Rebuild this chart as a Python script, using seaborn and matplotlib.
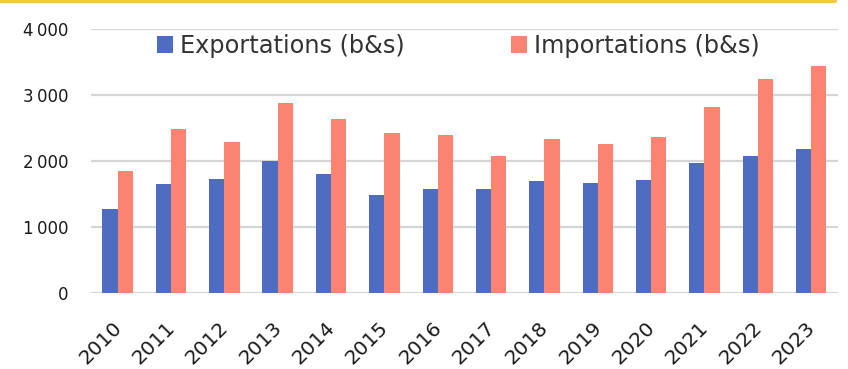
import matplotlib
matplotlib.use("Agg")
import matplotlib.pyplot as plt
import matplotlib.transforms as mtransforms
import seaborn as sns
import pandas as pd
from matplotlib.lines import Line2D
from matplotlib.ticker import FuncFormatter

years = [str(y) for y in range(2010, 2024)]
exports = [1265, 1650, 1725, 1990, 1800, 1480, 1570, 1578, 1690, 1655, 1705, 1960, 2070, 2172]
imports = [1838, 2487, 2292, 2870, 2637, 2420, 2390, 2070, 2325, 2250, 2365, 2812, 3238, 3432]
series = ["Exportations (b&s)", "Importations (b&s)"]
colors = ["#4e6cc0", "#fb8371"]

df = pd.DataFrame({
    "year": years * 2,
    "value": exports + imports,
    "series": [series[0]] * len(years) + [series[1]] * len(years),
})

sns.set_theme(style="white")
plt.rcParams["font.family"] = ["DejaVu Sans"]

fig = plt.figure(figsize=(8.48, 3.69), dpi=100)
ax = fig.add_axes([0.1073, 0.2073, 0.988 - 0.1073, 0.9214 - 0.2073])

sns.barplot(data=df, x="year", y="value", hue="series", palette=colors,
            width=0.57, gap=0, saturation=1, ax=ax, zorder=3, legend=True,
            linewidth=0, edgecolor="none")

ax.set_ylim(0, 4000)
ax.set_xlim(-0.5, len(years) - 0.5)
ax.set_yticks([0, 1000, 2000, 3000, 4000])
ax.yaxis.set_major_formatter(FuncFormatter(lambda v, p: f"{int(v):,}".replace(",", "\u2009")))
ax.grid(axis="y", color="#d6d6d6", linewidth=1.6, zorder=0)
ax.grid(axis="x", visible=False)
for s in ax.spines.values():
    s.set_visible(False)
ax.set_xlabel("")
ax.set_ylabel("")
ax.tick_params(axis="y", labelsize=12, colors="#1a1a1a", pad=16, length=0)
ax.tick_params(axis="x", labelsize=14.5, colors="#1a1a1a", pad=23, length=0)
offset = mtransforms.ScaledTranslation(1 / 100, 0, fig.dpi_scale_trans)
for lab in ax.get_xticklabels():
    lab.set_rotation(45)
    lab.set_ha("right")
    lab.set_va("center")
    lab.set_rotation_mode("anchor")
    lab.set_transform(lab.get_transform() + offset)

leg = ax.legend(loc="center", bbox_to_anchor=(0.492, 0.936), ncol=2, frameon=False,
                fontsize=17.3, handlelength=0.67, handleheight=0.67, handletextpad=0.3,
                columnspacing=4.4, labelcolor="#333333")

fig.add_artist(Line2D([0, 835 / 848], [0.997, 0.997], color="#f5c842", linewidth=3,
                      transform=fig.transFigure))

fig.savefig("out.png", dpi=100)
